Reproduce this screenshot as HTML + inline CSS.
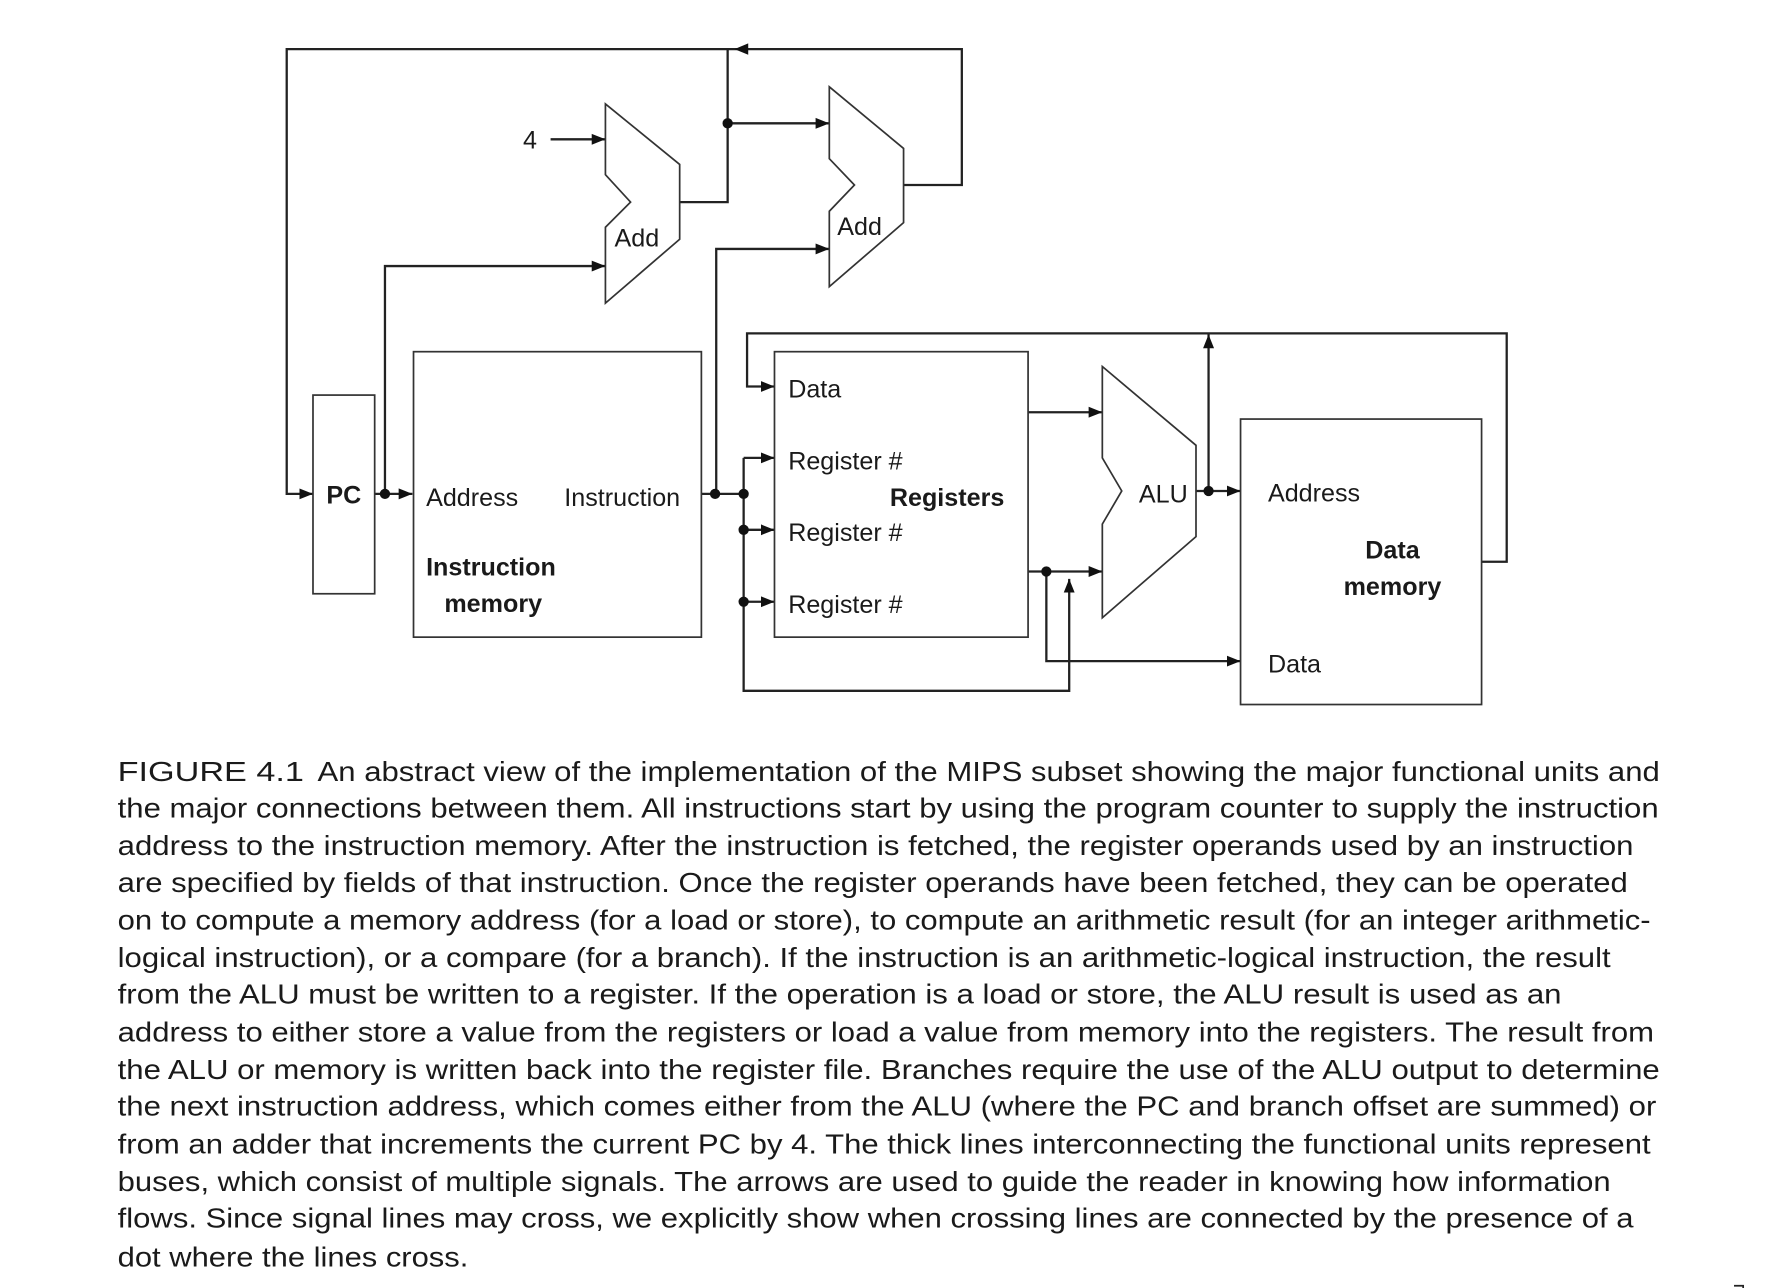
<!DOCTYPE html>
<html><head><meta charset="utf-8"><style>
html,body{margin:0;padding:0;background:#fff;}
svg{display:block;}
text{font-family:"Liberation Sans",Arial,sans-serif;fill:#1a1a1a;}
</style></head><body>
<svg width="1782" height="1288" viewBox="0 0 1560 1128" preserveAspectRatio="none" xmlns="http://www.w3.org/2000/svg">
<defs>
<marker id="a" viewBox="0 0 10 10" refX="10" refY="5" markerWidth="12" markerHeight="12" markerUnits="userSpaceOnUse" orient="auto"><path d="M0,1 L10,5 L0,9 z" fill="#111"/></marker>
</defs>
<g fill="none" stroke="#222" stroke-width="2">
<polyline points="791,162 842,162 842,43 251,43 251,432.5 274,432.5" marker-end="url(#a)"/>
<polyline points="595,177 637,177 637,43"/>
<polyline points="637,108 726,108" marker-end="url(#a)"/>
<polyline points="482,122 530,122" marker-end="url(#a)"/>
<polyline points="337,432.5 337,233 530,233" marker-end="url(#a)"/>
<polyline points="328,432.5 361,432.5" marker-end="url(#a)"/>
<polyline points="614,432.5 651,432.5"/>
<polyline points="627,432.5 627,218 726,218" marker-end="url(#a)"/>
<polyline points="651,401 651,605 936,605 936,507" marker-end="url(#a)"/>
<polyline points="651,401 678,401" marker-end="url(#a)"/>
<polyline points="651,464 678,464" marker-end="url(#a)"/>
<polyline points="651,527 678,527" marker-end="url(#a)"/>
<polyline points="1297,492 1319,492 1319,292 654,292 654,338.5 678,338.5" marker-end="url(#a)"/>
<polyline points="900,361 965,361" marker-end="url(#a)"/>
<polyline points="900,500.5 965,500.5" marker-end="url(#a)"/>
<polyline points="916,500.5 916,579 1086,579" marker-end="url(#a)"/>
<polyline points="1047,430 1086,430" marker-end="url(#a)"/>
<polyline points="1058,430 1058,293" marker-end="url(#a)"/>
</g>
<path d="M655,38 L643,43 L655,48 z" fill="#111"/>
<g fill="#111">
<circle cx="637" cy="108" r="4.5"/>
<circle cx="337" cy="432.5" r="4.5"/>
<circle cx="626" cy="432.5" r="4.5"/>
<circle cx="651" cy="432.5" r="4.5"/>
<circle cx="651" cy="464" r="4.5"/>
<circle cx="651" cy="527" r="4.5"/>
<circle cx="916" cy="500.5" r="4.5"/>
<circle cx="1058" cy="430" r="4.5"/>
</g>
<g fill="#fff" stroke="#333" stroke-width="1.5">
<polygon points="530,91 595,144 595,209.5 530,265.5 530,199 552,177 530,153"/>
<polygon points="726,76 791,130 791,195 726,251 726,185 748,162 726,139"/>
<polygon points="965,321 1047,390 1047,470 965,541 965,459 982,430 965,401"/>
<rect x="274" y="346" width="54" height="174"/>
<rect x="362" y="308" width="252" height="250"/>
<rect x="678" y="308" width="222" height="250"/>
<rect x="1086" y="367" width="211" height="250"/>
</g>
<g font-size="22">
<text x="464" y="130" text-anchor="middle">4</text>
<text x="538" y="216">Add</text>
<text x="733" y="206">Add</text>
<text x="301" y="441" text-anchor="middle" font-weight="bold">PC</text>
<text x="373" y="443">Address</text>
<text x="494" y="443">Instruction</text>
<text x="373" y="504" font-weight="bold">Instruction</text>
<text x="389" y="536" font-weight="bold">memory</text>
<text x="690" y="348">Data</text>
<text x="690" y="411">Register #</text>
<text x="690" y="474">Register #</text>
<text x="690" y="537">Register #</text>
<text x="779" y="443" font-weight="bold">Registers</text>
<text x="997" y="440">ALU</text>
<text x="1110" y="439">Address</text>
<text x="1219" y="489" text-anchor="middle" font-weight="bold">Data</text>
<text x="1219" y="521" text-anchor="middle" font-weight="bold">memory</text>
<text x="1110" y="589">Data</text>
</g>
<g font-size="24.5">
<text x="103" y="684" textLength="163" lengthAdjust="spacingAndGlyphs">FIGURE 4.1</text>
<text x="278" y="684" textLength="1175" lengthAdjust="spacingAndGlyphs">An abstract view of the implementation of the MIPS subset showing the major functional units and</text>
<text x="103" y="716" textLength="1349" lengthAdjust="spacingAndGlyphs">the major connections between them. All instructions start by using the program counter to supply the instruction</text>
<text x="103" y="749" textLength="1327" lengthAdjust="spacingAndGlyphs">address to the instruction memory. After the instruction is fetched, the register operands used by an instruction</text>
<text x="103" y="781" textLength="1322" lengthAdjust="spacingAndGlyphs">are specified by fields of that instruction. Once the register operands have been fetched, they can be operated</text>
<text x="103" y="814" textLength="1342" lengthAdjust="spacingAndGlyphs">on to compute a memory address (for a load or store), to compute an arithmetic result (for an integer arithmetic-</text>
<text x="103" y="847" textLength="1307" lengthAdjust="spacingAndGlyphs">logical instruction), or a compare (for a branch). If the instruction is an arithmetic-logical instruction, the result</text>
<text x="103" y="879" textLength="1264" lengthAdjust="spacingAndGlyphs">from the ALU must be written to a register. If the operation is a load or store, the ALU result is used as an</text>
<text x="103" y="912" textLength="1345" lengthAdjust="spacingAndGlyphs">address to either store a value from the registers or load a value from memory into the registers. The result from</text>
<text x="103" y="945" textLength="1350" lengthAdjust="spacingAndGlyphs">the ALU or memory is written back into the register file. Branches require the use of the ALU output to determine</text>
<text x="103" y="977" textLength="1347" lengthAdjust="spacingAndGlyphs">the next instruction address, which comes either from the ALU (where the PC and branch offset are summed) or</text>
<text x="103" y="1010" textLength="1342" lengthAdjust="spacingAndGlyphs">from an adder that increments the current PC by 4. The thick lines interconnecting the functional units represent</text>
<text x="103" y="1043" textLength="1307" lengthAdjust="spacingAndGlyphs">buses, which consist of multiple signals. The arrows are used to guide the reader in knowing how information</text>
<text x="103" y="1075" textLength="1327" lengthAdjust="spacingAndGlyphs">flows. Since signal lines may cross, we explicitly show when crossing lines are connected by the presence of a</text>
<text x="103" y="1109" textLength="307" lengthAdjust="spacingAndGlyphs">dot where the lines cross.</text>
</g>
<path d="M1518,1126 L1526,1126 L1526,1128" fill="none" stroke="#222" stroke-width="1.5"/>
</svg>
</body></html>
